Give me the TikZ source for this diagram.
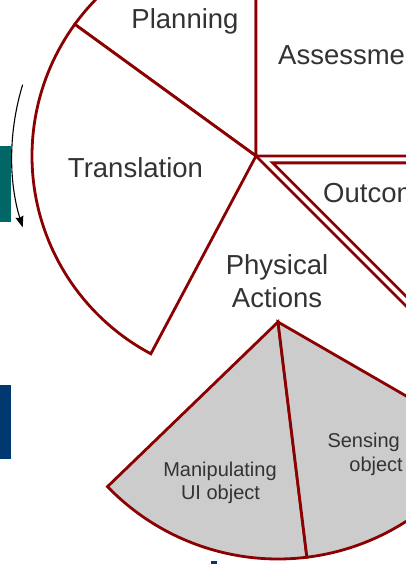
\documentclass[tikz,border=0pt]{standalone}
\usepackage{fontspec}
\setmainfont{Liberation Sans}
\usetikzlibrary{arrows.meta}
\definecolor{wred}{RGB}{139,0,0}
\definecolor{wgray}{RGB}{204,204,204}
\definecolor{wtext}{RGB}{51,51,51}
\definecolor{wteal}{RGB}{0,102,102}
\definecolor{wnavy}{RGB}{0,56,112}
\tikzset{
  sector/.style={draw=wred, line width=2.8pt, fill=white},
  subsector/.style={draw=wred, line width=2.8pt, fill=wgray},
  biglabel/.style={inner sep=0pt, text=wtext, font=\fontsize{27.5}{33}\selectfont},
  smalllabel/.style={inner sep=0pt, text=wtext, font=\fontsize{20}{24}\selectfont},
}
\begin{document}
\begin{tikzpicture}[x=1pt,y=1pt]
\useasboundingbox (0,0) rectangle (406,564);
\fill[white] (0,0) rectangle (406,564);
\clip (0,0) rectangle (406,564);
\coordinate (C) at (256,408);
\coordinate (P) at (278,242);
% side bars
\fill[wteal] (0,342) rectangle (11,418);
\fill[wnavy] (0,105) rectangle (11,179);
\fill[wnavy] (211,0) rectangle (217,3);
% main wheel
\draw[sector] (C) -- ++(90:224) arc[start angle=90,end angle=144,radius=224] -- cycle;
\draw[sector] (C) -- ++(0:224) arc[start angle=0,end angle=90,radius=224] -- cycle;
\draw[sector] ([shift={(-22.5:18)}]C) -- ++(0:224) arc[start angle=0,end angle=-45,radius=224] -- cycle;
\draw[sector] (C) -- ++(144:224) arc[start angle=144,end angle=242,radius=224] -- cycle;
\draw[sector] (C) -- ++(-45:240);
% rotation arrow
\draw[black, line width=1.1pt, -{Stealth[length=11pt,width=8pt,inset=1pt]}] (C) ++(163:244) arc[start angle=163,end angle=197,radius=244];
% sub wheel
\draw[subsector] (P) -- ++(224:237) arc[start angle=224,end angle=277,radius=237] -- cycle;
\draw[subsector] (P) -- ++(277:237) arc[start angle=277,end angle=330,radius=237] -- cycle;
% labels
\node[biglabel, anchor=base] (planning) at (185,535) {Planning};
\node[biglabel, anchor=base west] (assess) at (278,499) {Assessment};
\node[biglabel, anchor=base] (transl) at (135.5,386) {Translation};
\node[biglabel, anchor=base west] (outcome) at (323,361) {Outcome};
\node[biglabel, anchor=base] (phys1) at (277,289) {Physical};
\node[biglabel, anchor=base] (phys2) at (277,256) {Actions};
\node[smalllabel, anchor=base] (manip1) at (220,87) {Manipulating};
\node[smalllabel, anchor=base] (manip2) at (220.5,64) {UI object};
\node[smalllabel, anchor=base east] (sens1) at (400,116) {Sensing};
\node[smalllabel, anchor=base east] (sens2) at (403,92) {object};
\end{tikzpicture}
\end{document}
